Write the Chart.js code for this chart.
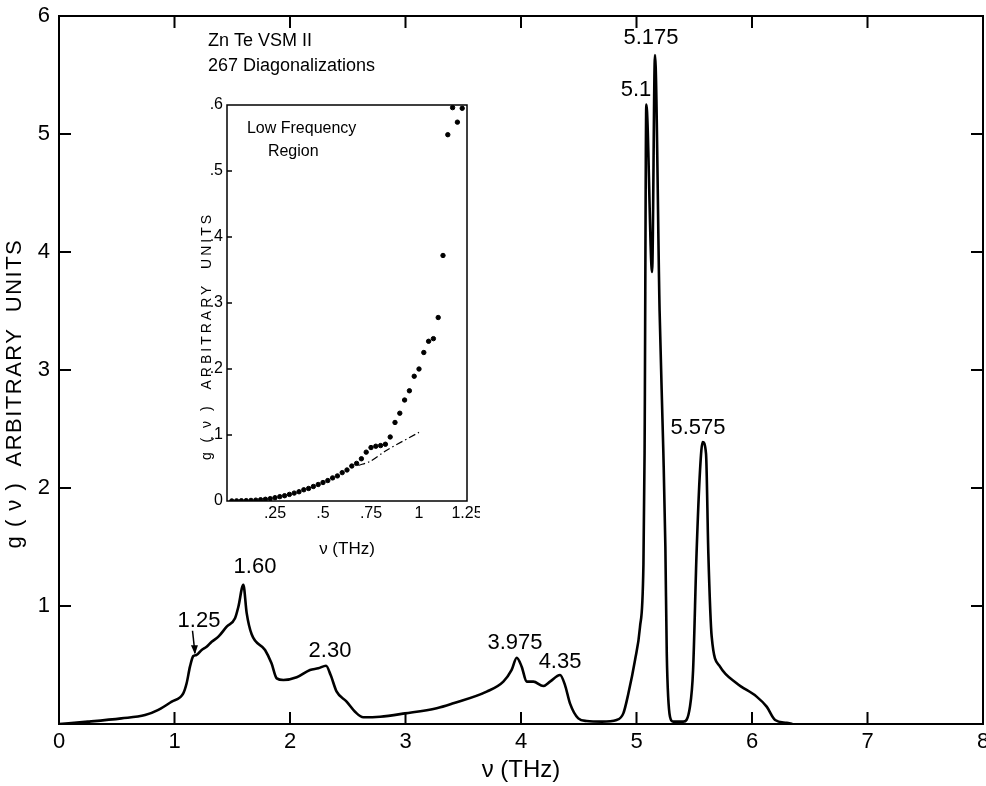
<!DOCTYPE html>
<html>
<head>
<meta charset="utf-8">
<script src="https://cdn.jsdelivr.net/npm/chart.js@4.4.1/dist/chart.umd.min.js"></script>
<style>
  body { margin: 0; background: #fff; }
  #wrap { position: relative; width: 986px; height: 786px; }
  #mainChart { position: absolute; left: 0; top: 0; }
  #insetChart { position: absolute; left: 190px; top: 95px; }
</style>
</head>
<body>
<div id="wrap">
  <canvas id="mainChart" width="986" height="786"></canvas>
  <canvas id="insetChart" width="290" height="470"></canvas>
</div>
<script>
// main curve: g(v) vs v (THz)
const freqTHz = [0, 0.25, 0.54, 0.745, 0.86, 0.976, 1.076, 1.105, 1.134, 1.163, 1.19, 1.235, 1.278, 1.322, 1.38, 1.452, 1.524, 1.553, 1.596, 1.625,
  1.668, 1.784, 1.84, 1.885, 1.943, 2.058, 2.173, 2.245, 2.312, 2.352, 2.404, 2.49, 2.563, 2.635, 2.78, 2.996, 3.27, 3.414, 3.703, 3.847,
  3.919, 3.963, 4.006, 4.049, 4.107, 4.193, 4.251, 4.338, 4.381, 4.424, 4.496, 4.569, 4.7, 4.828, 4.886, 4.93, 4.987, 5.03, 5.06, 5.07,
  5.085, 5.135, 5.16, 5.2, 5.232, 5.25, 5.262, 5.29, 5.318, 5.405, 5.463, 5.49, 5.52, 5.55, 5.573, 5.602, 5.622, 5.651, 5.723, 5.867,
  6.04, 6.127, 6.2, 6.3, 6.35];
const gMain = [0, 0.02, 0.048, 0.076, 0.12, 0.19, 0.26, 0.345, 0.486, 0.576, 0.585, 0.627, 0.655, 0.697, 0.74, 0.825, 0.896, 0.994, 1.18, 0.94,
  0.76, 0.627, 0.514, 0.387, 0.373, 0.396, 0.458, 0.472, 0.494, 0.415, 0.274, 0.19, 0.104, 0.057, 0.062, 0.09, 0.133, 0.175, 0.274, 0.359,
  0.458, 0.562, 0.486, 0.359, 0.359, 0.322, 0.359, 0.415, 0.33, 0.175, 0.048, 0.025, 0.02, 0.034, 0.09, 0.26, 0.54, 0.82, 1.35, 2.3,
  5.25, 3.83, 5.67, 3.5, 2.32, 1.5, 0.6, 0.062, 0.02, 0.02, 0.147, 0.458, 1.446, 2.15, 2.39, 2.29, 1.446, 0.74, 0.486, 0.345,
  0.232, 0.147, 0.034, 0.01, 0];

// peak labels (text, v, g)
const peakLabels = ["1.25", "1.60", "2.30", "3.975", "4.35", "5.575", "5.175", "5.1"];
const peakLabelX = [1.212, 1.697, 2.346, 3.948, 4.338, 5.532, 5.126, 4.996];
const peakLabelY = [0.873, 1.33, 0.619, 0.686, 0.525, 2.508, 5.81, 5.37];

// inset: low frequency region
const lowFreq = [0.025, 0.05, 0.075, 0.1, 0.125, 0.15, 0.175, 0.2, 0.225, 0.25, 0.275, 0.3, 0.325, 0.35, 0.375, 0.4, 0.425, 0.45, 0.475, 0.5,
  0.525, 0.55, 0.575, 0.6, 0.625, 0.65, 0.675, 0.7, 0.725, 0.75, 0.775, 0.8, 0.825, 0.85, 0.875, 0.9, 0.925, 0.95, 0.975, 1.0,
  1.025, 1.05, 1.075, 1.1, 1.125, 1.15, 1.175, 1.2, 1.225];
const lowG = [0.0001, 0.0002, 0.0004, 0.0006, 0.0009, 0.0013, 0.0019, 0.0026, 0.0036, 0.005, 0.0066, 0.008, 0.010, 0.012, 0.014, 0.017, 0.019, 0.022, 0.025, 0.028,
  0.031, 0.035, 0.038, 0.043, 0.047, 0.053, 0.057, 0.064, 0.074, 0.081, 0.083, 0.084, 0.086, 0.097, 0.119, 0.133, 0.153, 0.167, 0.189, 0.2,
  0.225, 0.242, 0.246, 0.278, 0.372, 0.555, 0.596, 0.574, 0.595];
const debyeX = [0.684, 0.745, 0.832, 1.0];
const debyeG = [0.054, 0.06, 0.077, 0.104];

const FONT = "'Liberation Sans', Arial, sans-serif";

// box + inward ticks + rotated y title
const frame = {
  id: "frame",
  afterDraw(chart, args, opts) {
    const { ctx, chartArea: a, scales } = chart;
    ctx.save();
    ctx.strokeStyle = "#000";
    ctx.lineWidth = opts.lw;
    ctx.strokeRect(a.left, a.top, a.right - a.left, a.bottom - a.top);
    const L = opts.tick;
    ctx.beginPath();
    if (opts.xTicks) {
      scales.x.ticks.forEach(t => {
        if (t.value <= scales.x.min || t.value >= scales.x.max) return;
        const px = scales.x.getPixelForValue(t.value);
        ctx.moveTo(px, a.bottom); ctx.lineTo(px, a.bottom - L);
        ctx.moveTo(px, a.top); ctx.lineTo(px, a.top + L);
      });
    }
    scales.y.ticks.forEach(t => {
      if (t.value <= scales.y.min || t.value >= scales.y.max) return;
      const py = scales.y.getPixelForValue(t.value);
      ctx.moveTo(a.left, py); ctx.lineTo(a.left + L, py);
      if (opts.rightTicks) { ctx.moveTo(a.right, py); ctx.lineTo(a.right - L, py); }
    });
    ctx.stroke();
    // y title
    ctx.fillStyle = "#000";
    ctx.font = opts.yFont + " " + FONT;
    ctx.letterSpacing = opts.ySpacing;
    ctx.textAlign = "center";
    ctx.textBaseline = "middle";
    ctx.translate(opts.yTitleX, scales.y.getPixelForValue(opts.yTitleAt));
    ctx.rotate(-Math.PI / 2);
    ctx.fillText(opts.yTitle, 0, 0);
    ctx.restore();
  }
};

// peak labels, arrow and title text
const notes = {
  id: "notes",
  afterDatasetsDraw(chart) {
    const { ctx, scales: { x, y } } = chart;
    ctx.save();
    ctx.fillStyle = "#000";
    ctx.textAlign = "center";
    ctx.textBaseline = "middle";
    ctx.font = "22px " + FONT;
    peakLabels.forEach((t, i) => {
      ctx.fillText(t, x.getPixelForValue(peakLabelX[i]), y.getPixelForValue(peakLabelY[i]));
    });
    // arrow for 1.25
    const x0 = x.getPixelForValue(1.156), y0 = y.getPixelForValue(0.79);
    const x1 = x.getPixelForValue(1.177), y1 = y.getPixelForValue(0.6);
    ctx.lineWidth = 1.5;
    ctx.beginPath(); ctx.moveTo(x0, y0); ctx.lineTo(x1, y1); ctx.stroke();
    ctx.beginPath(); ctx.moveTo(x1, y1 + 1); ctx.lineTo(x1 - 4, y1 - 8); ctx.lineTo(x1 + 3, y1 - 8); ctx.closePath(); ctx.fill();
    // title
    ctx.textAlign = "left";
    ctx.font = "18px " + FONT;
    ctx.fillText("Zn Te VSM II", x.getPixelForValue(1.29), y.getPixelForValue(5.79));
    ctx.fillText("267 Diagonalizations", x.getPixelForValue(1.29), y.getPixelForValue(5.58));
    ctx.restore();
  }
};

new Chart(document.getElementById("mainChart"), {
  type: "line",
  data: {
    datasets: [{
      data: freqTHz.map((v, i) => ({ x: v, y: gMain[i] })),
      borderColor: "#000",
      borderWidth: 2.6,
      pointRadius: 0,
      cubicInterpolationMode: "monotone",
      fill: false
    }]
  },
  options: {
    responsive: false,
    animation: false,
    layout: { padding: { top: 16, right: 3, left: 0, bottom: 0 } },
    plugins: {
      legend: { display: false },
      tooltip: { enabled: false },
      frame: { lw: 2, tick: 12, xTicks: true, rightTicks: true,
        yTitle: "g ( ν )  ARBITRARY  UNITS", yFont: "22px", ySpacing: "1.5px", yTitleX: 15, yTitleAt: 2.8 }
    },
    scales: {
      x: {
        type: "linear", min: 0, max: 8,
        grid: { display: false, drawTicks: false },
        border: { display: false },
        ticks: { stepSize: 1, autoSkip: false, maxRotation: 0, padding: 5, color: "#000", font: { size: 22, family: FONT } },
        title: { display: true, text: "ν (THz)", color: "#000", font: { size: 24, family: FONT }, padding: { top: 0, bottom: 1 } },
        afterFit(s) { s.height = 62; s.paddingLeft = 0; s.paddingRight = 0; }
      },
      y: {
        min: 0, max: 6,
        grid: { display: false, drawTicks: false },
        border: { display: false },
        ticks: { stepSize: 1, padding: 9, color: "#000", font: { size: 22, family: FONT },
          callback: v => v === 0 ? "" : v },
        afterFit(s) { s.width = 59; s.paddingTop = 0; s.paddingBottom = 0; }
      }
    }
  },
  plugins: [frame, notes]
});

const insetNote = {
  id: "insetNote",
  afterDatasetsDraw(chart) {
    const { ctx, scales: { x, y } } = chart;
    ctx.save();
    ctx.fillStyle = "#000";
    ctx.textBaseline = "middle";
    ctx.textAlign = "left";
    ctx.font = "16px " + FONT;
    ctx.fillText("Low Frequency", x.getPixelForValue(0.104), y.getPixelForValue(0.565));
    ctx.fillText("Region", x.getPixelForValue(0.213), y.getPixelForValue(0.53));
    ctx.restore();
  }
};

new Chart(document.getElementById("insetChart"), {
  type: "scatter",
  data: {
    datasets: [{
      data: lowFreq.map((v, i) => ({ x: v, y: lowG[i] })),
      backgroundColor: "#000",
      borderColor: "#000",
      pointRadius: 2.2,
      showLine: false
    }, {
      data: debyeX.map((v, i) => ({ x: v, y: debyeG[i] })),
      borderColor: "#000",
      borderWidth: 1.2,
      borderDash: [7, 3, 1.5, 3],
      pointRadius: 0,
      showLine: true,
      tension: 0.3
    }]
  },
  options: {
    responsive: false,
    animation: false,
    layout: { padding: { top: 10, right: 13, left: 0, bottom: 0 } },
    plugins: {
      legend: { display: false },
      tooltip: { enabled: false },
      frame: { lw: 1.5, tick: 5, xTicks: false, rightTicks: false,
        yTitle: "g ( ν )  ARBITRARY  UNITS", yFont: "14px", ySpacing: "3px", yTitleX: 17, yTitleAt: 0.25 }
    },
    scales: {
      x: {
        type: "linear", min: 0, max: 1.25,
        grid: { display: false, drawTicks: false },
        border: { display: false },
        ticks: { stepSize: 0.25, autoSkip: false, maxRotation: 0, padding: 3, color: "#000", font: { size: 16, family: FONT },
          callback: v => v === 0 ? "" : (v >= 1 ? String(v) : String(v).slice(1)) },
        title: { display: true, text: "ν (THz)", color: "#000", font: { size: 17, family: FONT }, padding: { top: 0, bottom: 5 } },
        afterFit(s) { s.height = 64; s.paddingLeft = 0; s.paddingRight = 0; }
      },
      y: {
        min: 0, max: 0.6,
        grid: { display: false, drawTicks: false },
        border: { display: false },
        ticks: { stepSize: 0.1, padding: 4, color: "#000", font: { size: 16, family: FONT },
          callback: v => v === 0 ? "0" : "." + Math.round(v * 10) },
        afterFit(s) { s.width = 37; s.paddingTop = 0; s.paddingBottom = 0; }
      }
    }
  },
  plugins: [frame, insetNote]
});
</script>
</body>
</html>
